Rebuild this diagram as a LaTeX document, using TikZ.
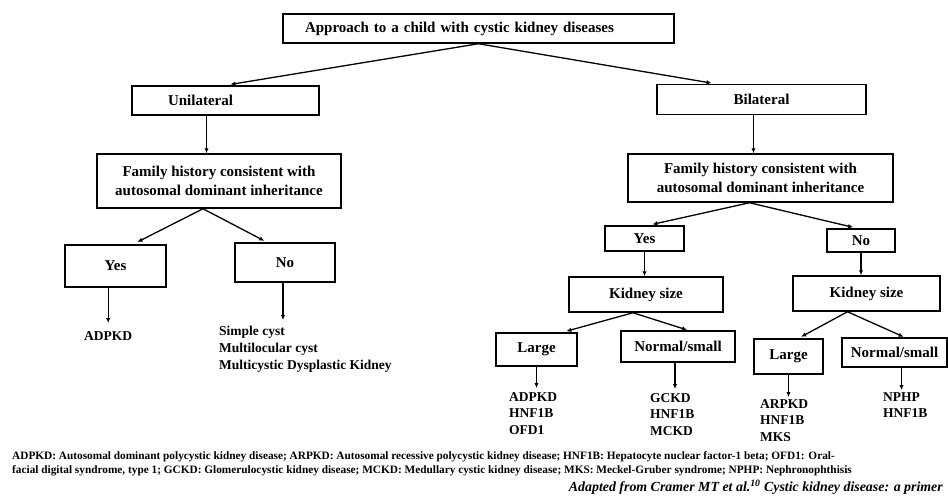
\documentclass[tikz,border=0pt]{standalone}
\usepackage{fontspec}
\setmainfont{Liberation Serif}
\usetikzlibrary{arrows.meta}

\begin{document}
\begin{tikzpicture}[x=1pt, y=-1pt,
    box/.style={draw, line width=1.5pt, inner sep=0pt, align=center, font=\fontsize{15}{18.5}\selectfont\bfseries},
    leaf/.style={anchor=north west, inner sep=0pt, align=left, font=\fontsize{13.5}{16.8}\selectfont\bfseries},
    arr/.style={-{Latex[length=5pt, width=4.5pt]}, line width=1.3pt}]
    \useasboundingbox (0,0) rectangle (948,503);

    % 顶层
    \node[box, minimum width=391pt, minimum height=29pt, text width=347pt, align=left] (title) at (478.5,28.5) {Approach to a child with cystic kidney diseases};
    \node[box, minimum width=187pt, minimum height=29pt, text width=115pt, align=left] (uni) at (225.5,100.5) {Unilateral};
    \node[box, minimum width=209pt, minimum height=30pt] (bil) at (761.5,99.5) {Bilateral};
    \draw[arr, shorten >=5pt] (title.south) -- (uni.north);
    \draw[arr, shorten >=4pt] (title.south) -- ([xshift=-46pt]bil.north);

    % 单侧
    \node[box, minimum width=244pt, minimum height=54pt] (famL) at (219,181) {Family history consistent with\\autosomal dominant inheritance};
    \node[box, minimum width=101pt, minimum height=42pt] (yesL) at (115.5,266) {Yes};
    \node[box, minimum width=100pt, minimum height=39pt] (noL) at (285,262.5) {No};
    \node[leaf] (adpkdL) at (84,331) {ADPKD};
    \node[leaf] (cystL) at (219,326) {Simple cyst\\Multilocular cyst\\Multicystic Dysplastic Kidney};
    \draw[arr] ([xshift=-19pt]uni.south) -- ([xshift=-19pt]uni.south |- famL.north);
    \draw[arr, shorten >=5pt] ([xshift=-16pt]famL.south) -- ([xshift=17.5pt]yesL.north);
    \draw[arr, shorten >=3pt] ([xshift=-16pt]famL.south) -- ([xshift=-18pt]noL.north);
    \draw[arr, shorten >=8pt] (yesL.south -| adpkdL.north) -- (adpkdL.north);
    \draw[arr, shorten >=6pt] ([xshift=-2pt]noL.south) -- ([xshift=-2pt]noL.south |- cystL.north);

    % 双侧
    \node[box, minimum width=265pt, minimum height=48pt] (famR) at (760.5,178) {Family history consistent with\\autosomal dominant inheritance};
    \node[box, minimum width=79pt, minimum height=25pt] (yesR) at (644.5,238.5) {Yes};
    \node[box, minimum width=68pt, minimum height=23pt] (noR) at (861,240.5) {No};
    \draw[arr] ([xshift=-8pt]bil.south) -- ([xshift=-8pt]bil.south |- famR.north);
    \draw[arr, shorten >=4pt] ([xshift=-11pt]famR.south) -- ([xshift=4pt]yesR.north);
    \draw[arr, shorten >=4pt] ([xshift=-11pt]famR.south) -- ([xshift=-4pt]noR.north);

    % 肾脏大小
    \node[box, minimum width=154pt, minimum height=35pt] (ksL) at (646,294.5) {Kidney size};
    \node[box, minimum width=147pt, minimum height=35pt] (ksR) at (866.5,293.5) {Kidney size};
    \draw[arr] (yesR.south) -- (yesR.south |- ksL.north);
    \draw[arr] (noR.south) -- (noR.south |- ksR.north);

    \node[box, minimum width=81pt, minimum height=33pt] (lgL) at (536.5,349.5) {Large};
    \node[box, minimum width=114pt, minimum height=31pt] (nsL) at (678,346.5) {Normal/small};
    \node[box, minimum width=69pt, minimum height=35pt] (lgR) at (788.5,356.5) {Large};
    \node[box, minimum width=105pt, minimum height=29pt] (nsR) at (894.5,352.5) {Normal/small};
    \draw[arr, shorten >=4pt] ([xshift=-13pt]ksL.south) -- ([xshift=26pt]lgL.north);
    \draw[arr, shorten >=1pt] ([xshift=-13pt]ksL.south) -- ([xshift=10pt]nsL.north);
    \draw[arr, shorten >=3pt] ([xshift=-19pt]ksR.south) -- ([xshift=10pt]lgR.north);
    \draw[arr, shorten >=1pt] ([xshift=-19pt]ksR.south) -- ([xshift=10pt]nsR.north);

    % 结果
    \node[leaf] (resA) at (509,392) {ADPKD\\HNF1B\\OFD1};
    \node[leaf] (resB) at (650,393) {GCKD\\HNF1B\\MCKD};
    \node[leaf] (resC) at (760,399) {ARPKD\\HNF1B\\MKS};
    \node[leaf] (resD) at (883,392) {NPHP\\HNF1B};
    \draw[arr, shorten >=4pt] (lgL.south) -- (lgL.south |- resA.north);
    \draw[arr, shorten >=4pt] ([xshift=-3pt]nsL.south) -- ([xshift=-3pt]nsL.south |- resB.north);
    \draw[arr, shorten >=2pt] (lgR.south) -- (lgR.south |- resC.north);
    \draw[arr, shorten >=2pt] ([xshift=7pt]nsR.south) -- ([xshift=7pt]nsR.south |- resD.north);

    % 缩写与出处
    \node[anchor=west, inner sep=0pt, align=left, font=\fontsize{11.3}{14}\selectfont\bfseries] (abbr) at (12,463.5) {ADPKD: Autosomal dominant polycystic kidney disease; ARPKD: Autosomal recessive polycystic kidney disease; HNF1B: Hepatocyte nuclear factor-1 beta; OFD1: Oral-\\facial digital syndrome, type 1; GCKD: Glomerulocystic kidney disease; MCKD: Medullary cystic kidney disease; MKS: Meckel-Gruber syndrome; NPHP: Nephronophthisis};
    \node[anchor=east, inner sep=0pt, font=\fontsize{13.9}{16}\selectfont\bfseries\itshape] (src) at (943,487) {Adapted from Cramer MT et al.\textsuperscript{10} Cystic kidney disease: a primer};
\end{tikzpicture}
\end{document}
